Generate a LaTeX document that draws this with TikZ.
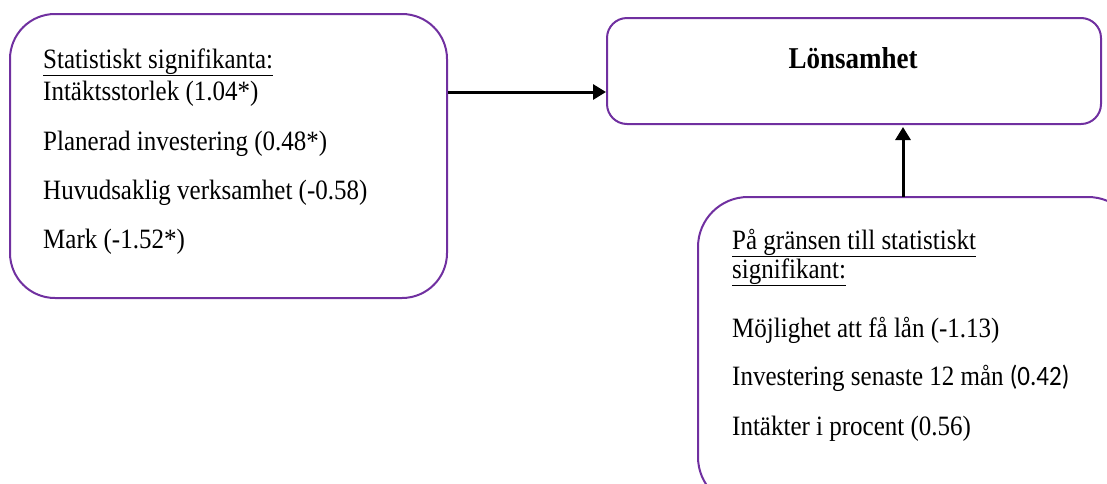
\documentclass[tikz,border=0pt]{standalone}
\usepackage{fontspec}
\usepackage{graphicx}
\setmainfont{Liberation Serif}
\newfontfamily\calibri{Carlito}
\usetikzlibrary{arrows.meta}
\definecolor{boxpurple}{HTML}{7030A0}
\newcommand{\tallt}[1]{\scalebox{1}[1.12]{#1}}
\tikzset{
  rbox/.style={draw=boxpurple, line width=2pt, rectangle, inner sep=0pt},
  txt/.style={anchor=base west, inner sep=0pt, font=\fontsize{25}{29}\selectfont},
  conn/.style={line width=3pt, -{Triangle[length=13pt,width=15pt]}}
}
\begin{document}
\begin{tikzpicture}[x=1pt,y=-1pt]
\useasboundingbox (0,0) rectangle (1107,483);
\clip (0,0) rectangle (1107,483);
% left box
\node[rbox, rounded corners=45pt, minimum width=437pt, minimum height=284pt] (sig) at (228.5,156) {};
\node[txt] (s0) at (43,68) {\tallt{\underline{Statistiskt signifikanta:}}};
\node[txt] (s1) at (43,100) {\tallt{Intäktsstorlek (1.04*)}};
\node[txt] (s2) at (43,150) {\tallt{Planerad investering (0.48*)}};
\node[txt] (s3) at (43,199) {\tallt{Huvudsaklig verksamhet (-0.58)}};
\node[txt] (s4) at (43,248) {\tallt{Mark (-1.52*)}};
% top box
\node[rbox, rounded corners=20pt, minimum width=494pt, minimum height=106pt] (lon) at (854,71) {};
\node[anchor=base, inner sep=0pt, font=\fontsize{27}{31}\selectfont\bfseries] (lt) at (853,68) {\tallt{Lönsamhet}};
% right box (partly outside)
\node[rbox, rounded corners=50pt, minimum width=440pt, minimum height=310pt] (gr) at (918,352) {};
\node[txt] (g0) at (732,249) {\tallt{\underline{På gränsen till statistiskt}}};
\node[txt] (g1) at (732,278) {\tallt{\underline{signifikant:}}};
\node[txt] (g2) at (732,337) {\tallt{Möjlighet att få lån (-1.13)}};
\node[txt] (g3) at (732,385) {\tallt{Investering senaste 12 mån {\calibri (0.42)}}};
\node[txt] (g4) at (732,435) {\tallt{Intäkter i procent (0.56)}};
% connectors
\coordinate (a1) at (sig.east |- 0,92);
\coordinate (a2) at (lon.west |- 0,92);
\draw[conn] (a1) -- (a2);
\coordinate (b1) at (903,197);
\coordinate (b2) at (903,127);
\draw[conn] (b1) -- (b2);
\end{tikzpicture}
\end{document}
